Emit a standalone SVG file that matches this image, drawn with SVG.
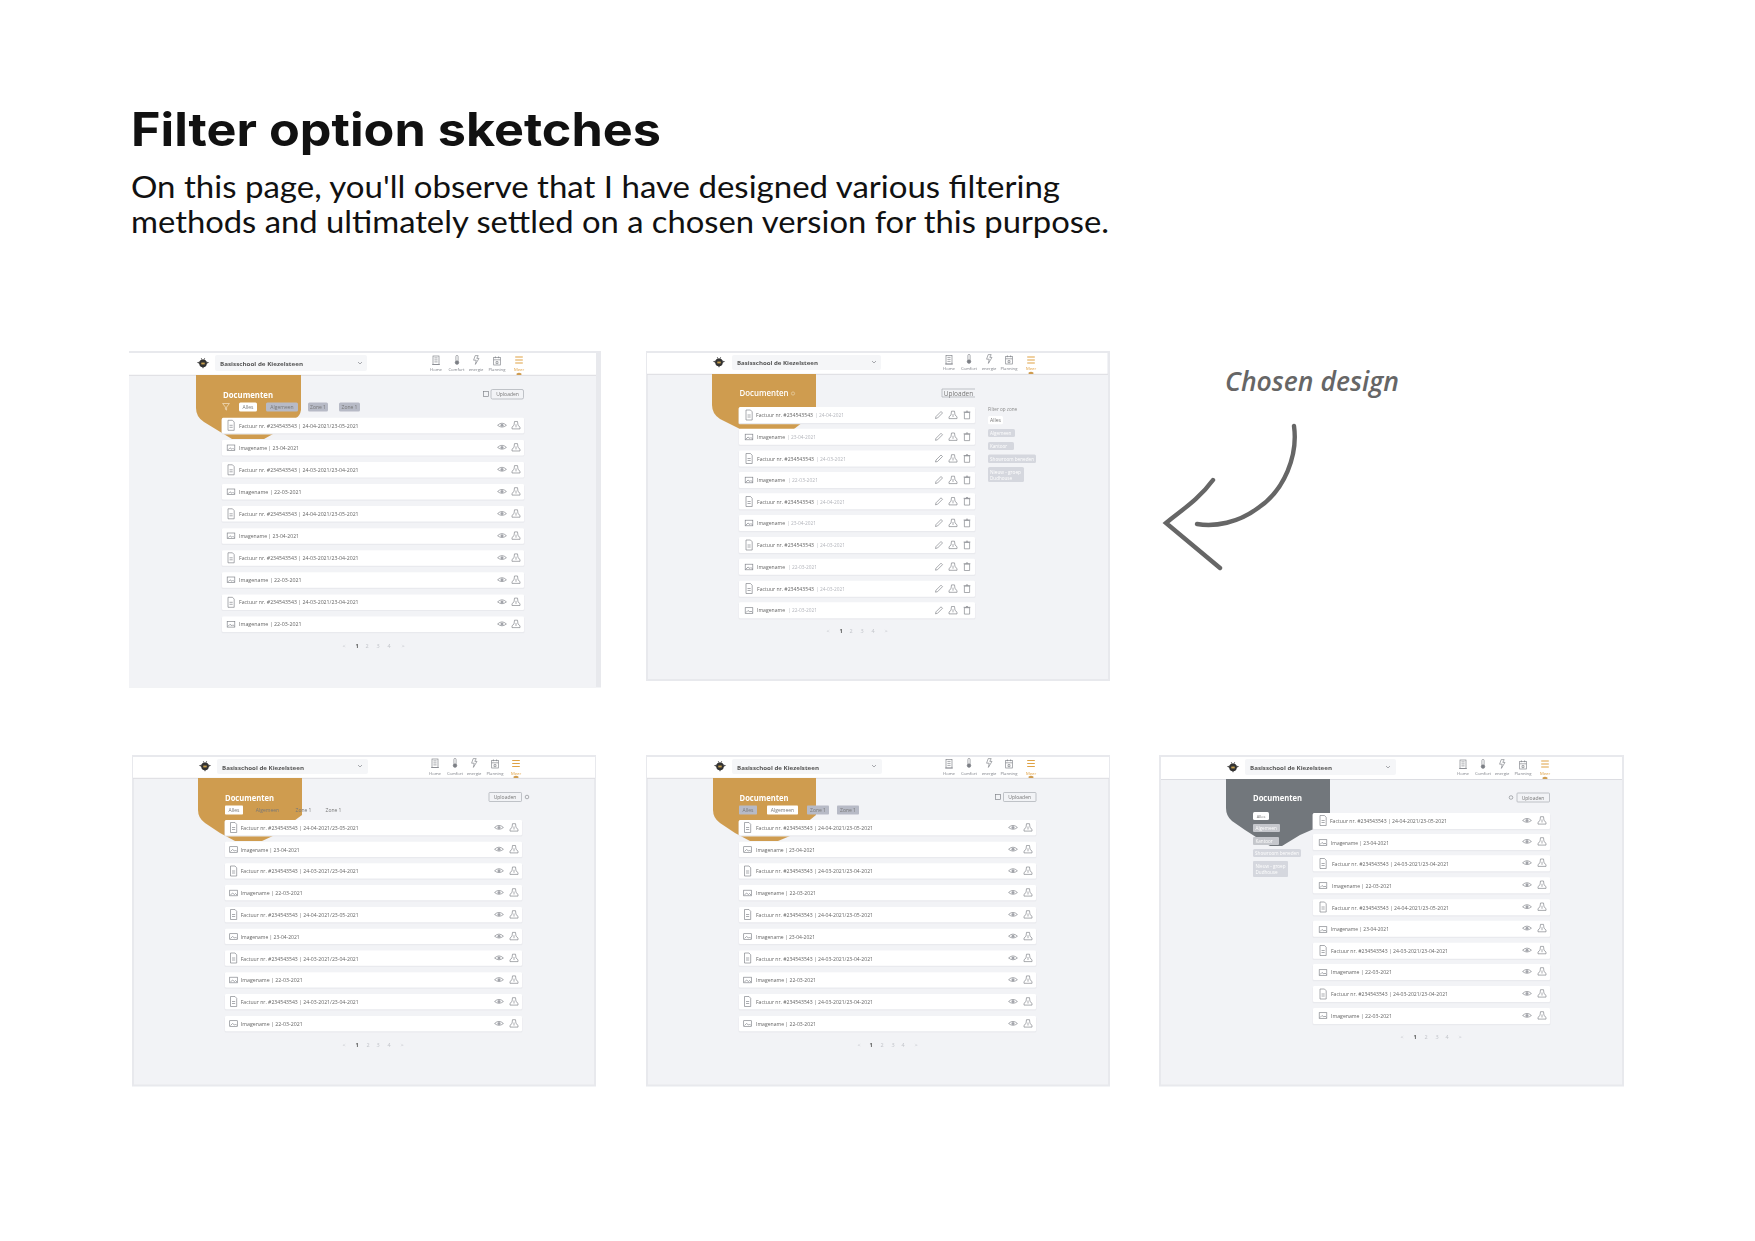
<svg xmlns="http://www.w3.org/2000/svg" width="1755" height="1241" viewBox="0 0 1755 1241">
<style>
text{font-family:"Open Sans","Liberation Sans",sans-serif}
.bg{fill:#f2f3f6;stroke:#e8e9ed;stroke-width:2}
.hd{fill:#fff}
.hl{stroke:#dcdde2;stroke-width:1}
.sel{fill:#f5f6f8}
.sn{font-size:6px;font-weight:700;fill:#555}
.nl{font-size:4.2px;fill:#7e8188;text-anchor:middle}
.ml{font-size:4.2px;fill:#e0a040;text-anchor:middle}
.or{fill:#cf9c4f}
.gr{fill:#72777b}
.dt{font-size:8.5px;font-weight:700;fill:#fff}
.rw{font-size:5.6px;fill:#666}
.rd{font-size:5.6px;fill:#b4b6bc}
.w{fill:#fff}
.cg{fill:#b7bac6}
.cl{fill:#d5d7de}
.ct{font-size:5px;fill:#777;text-anchor:middle}
.cw{font-size:4.6px;fill:#fff}
.ub{fill:none;stroke:#a9acb3;stroke-width:.7}
.ut{font-size:5px;fill:#777;text-anchor:middle}
.pg{font-size:5.5px;fill:#c2c4ca;text-anchor:middle}
.pa{font-size:5.5px;fill:#555;font-weight:700;text-anchor:middle}
.ic{fill:none;stroke:#7c7f85;stroke-width:.65}
.io{fill:none;stroke:#dfa244;stroke-width:1.1}
.sh{fill:#e9eaee}
.h1{font-family:Inter,"Liberation Sans",sans-serif;font-size:46px;font-weight:700;fill:#111}
.h2{font-family:Lato,"Liberation Sans",sans-serif;font-size:30px;fill:#111}
.cd{font-size:26.5px;font-style:italic;font-weight:600;fill:#666}
</style>
<defs>
<filter id="soft" filterUnits="userSpaceOnUse" x="120" y="340" width="1515" height="760"><feGaussianBlur stdDeviation="0.4"/></filter>
<g id="doc" class="ic"><path d="M-3 -5H1.5L3.2 -3.2V5H-3Z"/><path d="M-1.5 0H1.7M-1.5 2H1.7"/></g>
<g id="img" class="ic"><rect x="-3.8" y="-2.8" width="7.6" height="5.6"/><path d="M-3 2L-1 0L1 1.5L2 .5L3.5 2"/></g>
<g id="eye" class="ic"><path d="M-4.4 0Q0 -4.2 4.4 0Q0 3.6 -4.4 0Z"/><circle r="1.5" fill="#a2a4aa" stroke="none"/></g>
<g id="dl" class="ic"><path d="M-1.5 -3.8H1.5L2 0L4 1.8V3.6H-4V1.8L-2 0Z"/><path d="M0 -1V2"/></g>
<g id="pen" class="ic"><path d="M-3.5 3.5L-3 1.5L2 -3.5L3.5 -2L-1.5 3Z"/></g>
<g id="tr" class="ic"><path d="M-2.6 -2.6H2.6V3.8H-2.6ZM-3.4 -3H3.4M-1 -3.8H1"/></g>
<g id="i1" class="ic"><rect x="-3" y="-4.5" width="6" height="8.5"/><path d="M-1.6 -2.6H1.6M-1.6 -.6H1.6M-1.6 1.4H1.6M-4 4H4"/></g>
<g id="i2" class="ic"><rect x="-1.1" y="-4.6" width="2.2" height="6.4" rx="1.1"/><circle cy="2.6" r="1.8" fill="#7c7f85"/></g>
<g id="i3" class="ic"><path d="M-.8 -4.4H2.2L.8 -1.6H3L-.6 4.4L.2 .2H-2.4Z"/></g>
<g id="i4" class="ic"><rect x="-3.3" y="-3.4" width="6.6" height="7.4"/><path d="M-3.3 -1.2H3.3M-1.6 -4.6V-2.8M1.6 -4.6V-2.8M-1 .6H1V2.6H-1Z"/></g>
<g id="i5" class="io"><path d="M-3.8 -3H3.8M-3.8 0H3.8M-3.8 3H3.8"/></g>
<g id="bee"><path d="M-1.8 -5L-.8 -3M1.8 -5L.8 -3" stroke="#333" stroke-width=".6" fill="none"/><path d="M-3.2 -1.5L-6.2 -.4L-3.2 1ZM3.2 -1.5L6.2 -.4L3.2 1Z" fill="#555"/><ellipse cy=".3" rx="3.8" ry="3.9" fill="#333"/><rect x="-1.7" y="-.4" width="3.4" height="1.8" fill="#c9a04e"/><path d="M-1 4.2H1L0 5.6Z" fill="#333"/></g>
<path id="chev" class="ic" d="M-2 -1L0 1L2 -1"/>
<path id="mk" class="or" d="M-2.4 2V.6Q0 -1 2.4 .6V2Z"/>
<g id="fl"><path d="M-3.4 -3H3.4L.6 .6V3.6L-.6 2.8V.6Z" fill="none" stroke="#f3e4c8" stroke-width=".7"/></g>
<rect id="ubi" class="ic" x="-2.4" y="-2.4" width="4.8" height="4.8"/>
<g id="r1"><rect x="221.5" y=".4" width="303" height="16.3" rx="1.5" class="sh"/><rect x="222" width="302" height="15.5" rx="1.2" class="w"/><use href="#eye" x="502" y="7.5"/><use href="#dl" x="516" y="7.5"/></g>
<g id="r2"><rect x="738.5" y=".4" width="237" height="16.8" rx="1.5" class="sh"/><rect x="739" width="236" height="16" rx="1.2" class="w"/><use href="#pen" x="939" y="8"/><use href="#dl" x="953" y="8"/><use href="#tr" x="967" y="8"/></g>
<g id="r3"><rect x="224.5" y=".4" width="298" height="16.1" rx="1.5" class="sh"/><rect x="225" width="297" height="15.3" rx="1.2" class="w"/><use href="#eye" x="499" y="7.5"/><use href="#dl" x="514" y="7.5"/></g>
<g id="r4"><rect x="738.5" y=".4" width="298" height="16.1" rx="1.5" class="sh"/><rect x="739" width="297" height="15.3" rx="1.2" class="w"/><use href="#eye" x="1013" y="7.5"/><use href="#dl" x="1028" y="7.5"/></g>
<g id="r5"><rect x="1312.5" y=".4" width="238" height="16.8" rx="1.5" class="sh"/><rect x="1313" width="237" height="16" rx="1.2" class="w"/><use href="#eye" x="1527" y="7.5"/><use href="#dl" x="1542" y="7.5"/></g>
</defs>
<rect width="1755" height="1241" fill="#fff"/>

<g id="heading">
<text class="h1" x="131" y="145.5" textLength="530" lengthAdjust="spacingAndGlyphs">Filter option sketches</text>
<text class="h2" x="131" y="198" textLength="929" lengthAdjust="spacingAndGlyphs">On this page, you'll observe that I have designed various filtering</text>
<text class="h2" x="131" y="233" textLength="978" lengthAdjust="spacingAndGlyphs">methods and ultimately settled on a chosen version for this purpose.</text>
</g>

<g id="panel-1" filter="url(#soft)">
<rect x="129" y="351" width="472" height="336.5" fill="#e8e9ed"/>
<rect x="129" y="353" width="467" height="334.5" fill="#f2f3f6"/>
<rect class="hd" x="129" y="353" width="467" height="22"/><path class="hl" d="M129 375.3H596"/>
<use href="#bee" x="203" y="363"/>
<rect class="sel" x="215" y="355" width="152" height="16" rx="2"/>
<text class="sn" x="220" y="365.5" textLength="83" lengthAdjust="spacingAndGlyphs">Basisschool de Kiezelsteen</text>
<use href="#chev" x="360" y="363"/>
<use href="#i1" x="436" y="360.5"/><use href="#i2" x="457" y="360"/><use href="#i3" x="476" y="360"/><use href="#i4" x="497" y="361"/><use href="#i5" x="519" y="360"/>
<text class="nl" x="436" y="371">Home</text><text class="nl" x="456.5" y="371">Comfort</text><text class="nl" x="476" y="371">energie</text><text class="nl" x="497" y="371">Planning</text><text class="ml" x="519" y="371">Meer</text>
<use href="#mk" x="519" y="373"/>
<path class="or" d="M196 375H301V410Q300 416 296 418L273 434L264 439H232L222 433L204 422Q196 417 196 408Z"/>
<text class="dt" x="223" y="397.5" textLength="50" lengthAdjust="spacingAndGlyphs">Documenten</text>
<use href="#fl" x="226" y="406.5"/>
<rect class="w" x="239" y="402.5" width="18" height="9" rx="1.5"/><text class="ct" x="248" y="409">Alles</text>
<rect class="cg" x="266" y="402.5" width="32" height="9" rx="1.5"/><text class="ct" x="282" y="409">Algemeen</text>
<rect class="cg" x="308" y="402.5" width="20" height="9" rx="1.5"/><text class="ct" x="318" y="409">Zone 1</text>
<rect class="cg" x="339" y="402.5" width="21" height="9" rx="1.5"/><text class="ct" x="349.5" y="409">Zone 1</text>
<use href="#ubi" x="486" y="394"/><rect class="ub" x="491" y="389.5" width="32.5" height="9.5" rx="1.5"/><text class="ut" x="507.5" y="396">Uploaden</text>
<g id="rows-1" transform="translate(0,.8)">
<use href="#r1" y="417"/><use href="#doc" x="231" y="424.5"/><text class="rw" x="239" y="426.8" textLength="119.6" lengthAdjust="spacingAndGlyphs">Factuur nr. #234543543 | 24-04-2021/23-05-2021</text>
<use href="#r1" y="439.1"/><use href="#img" x="231" y="447"/><text class="rw" x="239" y="448.9" textLength="60" lengthAdjust="spacingAndGlyphs">Imagename | 23-04-2021</text>
<use href="#r1" y="461.1"/><use href="#doc" x="231" y="469"/><text class="rw" x="239" y="470.9" textLength="119.6" lengthAdjust="spacingAndGlyphs">Factuur nr. #234543543 | 24-03-2021/23-04-2021</text>
<use href="#r1" y="483.2"/><use href="#img" x="231" y="491"/><text class="rw" x="239" y="493" textLength="62.6" lengthAdjust="spacingAndGlyphs">Imagename | 22-03-2021</text>
<use href="#r1" y="505.3"/><use href="#doc" x="231" y="513"/><text class="rw" x="239" y="515.1" textLength="119.6" lengthAdjust="spacingAndGlyphs">Factuur nr. #234543543 | 24-04-2021/23-05-2021</text>
<use href="#r1" y="527.4"/><use href="#img" x="231" y="535"/><text class="rw" x="239" y="537.2" textLength="60" lengthAdjust="spacingAndGlyphs">Imagename | 23-04-2021</text>
<use href="#r1" y="549.4"/><use href="#doc" x="231" y="557"/><text class="rw" x="239" y="559.2" textLength="119.6" lengthAdjust="spacingAndGlyphs">Factuur nr. #234543543 | 24-03-2021/23-04-2021</text>
<use href="#r1" y="571.5"/><use href="#img" x="231" y="579"/><text class="rw" x="239" y="581.3" textLength="62.6" lengthAdjust="spacingAndGlyphs">Imagename | 22-03-2021</text>
<use href="#r1" y="593.6"/><use href="#doc" x="231" y="601.5"/><text class="rw" x="239" y="603.4" textLength="119.6" lengthAdjust="spacingAndGlyphs">Factuur nr. #234543543 | 24-03-2021/23-04-2021</text>
<use href="#r1" y="615.7"/><use href="#img" x="231" y="623.5"/><text class="rw" x="239" y="625.5" textLength="62.6" lengthAdjust="spacingAndGlyphs">Imagename | 22-03-2021</text>
</g>
<text class="pg" x="344" y="647.5">&lt;</text><text class="pa" x="357" y="647.5">1</text><text class="pg" x="367" y="647.5">2</text><text class="pg" x="378" y="647.5">3</text><text class="pg" x="389" y="647.5">4</text><text class="pg" x="403" y="647.5">&gt;</text>
</g>

<g id="panel-2" filter="url(#soft)">
<rect class="bg" x="647" y="352" width="462" height="328"/>
<rect class="hd" x="647" y="353" width="460" height="21"/><path class="hl" d="M647 374.3H1108"/>
<use href="#bee" x="719" y="362"/>
<rect class="sel" x="732" y="355" width="149" height="15" rx="2"/>
<text class="sn" x="737" y="365" textLength="81" lengthAdjust="spacingAndGlyphs">Basisschool de Kiezelsteen</text>
<use href="#chev" x="874" y="362"/>
<use href="#i1" x="949" y="360"/><use href="#i2" x="969" y="359"/><use href="#i3" x="989" y="359"/><use href="#i4" x="1009" y="360"/><use href="#i5" x="1031" y="360"/>
<text class="nl" x="949" y="370">Home</text><text class="nl" x="969" y="370">Comfort</text><text class="nl" x="989" y="370">energie</text><text class="nl" x="1009" y="370">Planning</text><text class="ml" x="1031" y="370">Meer</text>
<use href="#mk" x="1031" y="372"/>
<path class="or" d="M712 374H816V412L794 429H740L720 419Q712 414 712 405Z"/>
<text class="dt" x="739.5" y="396" textLength="49" lengthAdjust="spacingAndGlyphs" style="font-weight:600">Documenten</text>
<circle cx="793" cy="393.5" r="1.6" fill="none" stroke="#eedcb8" stroke-width=".6"/>
<path class="ub" d="M975 397H942V389H975"/><text class="ut" x="958.5" y="395.5" style="font-size:6.5px">Uploaden</text>
<g id="rows-2">
<use href="#r2" y="407"/><use href="#doc" x="749" y="415"/><text class="rw" x="756" y="417" textLength="57" lengthAdjust="spacingAndGlyphs">Factuur nr. #234543543</text><text class="rd" x="815" y="417" textLength="29" lengthAdjust="spacingAndGlyphs">| 24-04-2021</text>
<use href="#r2" y="428.8"/><use href="#img" x="749" y="437"/><text class="rw" x="757" y="438.8" textLength="28" lengthAdjust="spacingAndGlyphs">Imagename</text><text class="rd" x="787" y="438.8" textLength="29" lengthAdjust="spacingAndGlyphs">| 23-04-2021</text>
<use href="#r2" y="450.5"/><use href="#doc" x="749" y="458.5"/><text class="rw" x="757" y="460.5" textLength="57" lengthAdjust="spacingAndGlyphs">Factuur nr. #234543543</text><text class="rd" x="816" y="460.5" textLength="30" lengthAdjust="spacingAndGlyphs">| 24-03-2021</text>
<use href="#r2" y="472"/><use href="#img" x="749" y="480"/><text class="rw" x="757" y="482" textLength="28" lengthAdjust="spacingAndGlyphs">Imagename</text><text class="rd" x="788" y="482" textLength="30" lengthAdjust="spacingAndGlyphs">| 22-03-2021</text>
<use href="#r2" y="493.3"/><use href="#doc" x="749" y="501.5"/><text class="rw" x="757" y="503.5" textLength="57" lengthAdjust="spacingAndGlyphs">Factuur nr. #234543543</text><text class="rd" x="816" y="503.5" textLength="29" lengthAdjust="spacingAndGlyphs">| 24-04-2021</text>
<use href="#r2" y="515"/><use href="#img" x="749" y="523"/><text class="rw" x="757" y="525" textLength="28" lengthAdjust="spacingAndGlyphs">Imagename</text><text class="rd" x="787" y="525" textLength="29" lengthAdjust="spacingAndGlyphs">| 23-04-2021</text>
<use href="#r2" y="537"/><use href="#doc" x="749" y="545"/><text class="rw" x="757" y="547" textLength="57" lengthAdjust="spacingAndGlyphs">Factuur nr. #234543543</text><text class="rd" x="816" y="547" textLength="29" lengthAdjust="spacingAndGlyphs">| 24-03-2021</text>
<use href="#r2" y="558.7"/><use href="#img" x="749" y="567"/><text class="rw" x="757" y="568.7" textLength="28" lengthAdjust="spacingAndGlyphs">Imagename</text><text class="rd" x="788" y="568.7" textLength="29" lengthAdjust="spacingAndGlyphs">| 22-03-2021</text>
<use href="#r2" y="580.7"/><use href="#doc" x="749" y="588.5"/><text class="rw" x="757" y="590.7" textLength="57" lengthAdjust="spacingAndGlyphs">Factuur nr. #234543543</text><text class="rd" x="816" y="590.7" textLength="29" lengthAdjust="spacingAndGlyphs">| 24-03-2021</text>
<use href="#r2" y="602.3"/><use href="#img" x="749" y="610.5"/><text class="rw" x="757" y="612.3" textLength="28" lengthAdjust="spacingAndGlyphs">Imagename</text><text class="rd" x="788" y="612.3" textLength="29" lengthAdjust="spacingAndGlyphs">| 22-03-2021</text>
</g>
<text x="988" y="410.5" style="font-size:4.6px;fill:#888">Filter op zone</text>
<rect class="w" x="988" y="416" width="15" height="8.3" rx="1.5"/><text class="ct" x="995.5" y="422">Alles</text>
<rect class="cl" x="988" y="429" width="27" height="8" rx="1.5"/><text class="cw" x="990" y="435">Algemeen</text>
<rect class="cl" x="988" y="442" width="26" height="8" rx="1.5"/><text class="cw" x="990" y="448">Kantoor</text>
<rect class="cl" x="988" y="454.5" width="48" height="8.5" rx="1.5"/><text class="cw" x="990" y="460.5" textLength="44" lengthAdjust="spacingAndGlyphs">Showroom beneden</text>
<rect class="cl" x="988" y="467" width="36" height="15" rx="1.5"/><text class="cw" x="990" y="473.5" textLength="31" lengthAdjust="spacingAndGlyphs">Nieuw - groep</text><text class="cw" x="990" y="479.5">Dudhouse</text>
<text class="pg" x="828" y="633">&lt;</text><text class="pa" x="841" y="633">1</text><text class="pg" x="851" y="633">2</text><text class="pg" x="862" y="633">3</text><text class="pg" x="873" y="633">4</text><text class="pg" x="886" y="633">&gt;</text>
</g>

<g id="chosen-note">
<text class="cd" x="1225" y="391" textLength="174" lengthAdjust="spacingAndGlyphs">Chosen design</text>
<path d="M1294 426C1298 455 1285 490 1258 508C1238 523 1215 527 1197 524M1213 480C1200 498 1182 510 1166 523L1220 568" fill="none" stroke="#666" stroke-width="4.4" stroke-linecap="round" stroke-linejoin="miter"/>
</g>

<g id="panel-3" filter="url(#soft)">
<rect class="bg" x="133" y="756" width="462" height="329.5"/>
<rect class="hd" x="133" y="757" width="462" height="21"/><path class="hl" d="M133 778.3H595"/>
<use href="#bee" x="205" y="766"/>
<rect class="sel" x="217" y="759" width="151" height="15" rx="2"/>
<text class="sn" x="222" y="769.5" textLength="82" lengthAdjust="spacingAndGlyphs">Basisschool de Kiezelsteen</text>
<use href="#chev" x="360" y="766"/>
<use href="#i1" x="435" y="763.5"/><use href="#i2" x="455" y="763"/><use href="#i3" x="474" y="763"/><use href="#i4" x="495" y="764"/><use href="#i5" x="516" y="763.5"/>
<text class="nl" x="435" y="774.5">Home</text><text class="nl" x="455" y="774.5">Comfort</text><text class="nl" x="474" y="774.5">energie</text><text class="nl" x="495" y="774.5">Planning</text><text class="ml" x="516" y="774.5">Meer</text>
<use href="#mk" x="516" y="776"/>
<path class="or" d="M198 778H302V815L275 835L262 841H235L220 833L205 823Q198 818 198 810Z"/>
<text class="dt" x="225" y="800.5" textLength="49" lengthAdjust="spacingAndGlyphs">Documenten</text>
<rect class="w" x="225" y="805.5" width="18" height="9" rx=".8"/><text class="ct" x="234" y="812">Alles</text>
<text class="ct" x="267.5" y="812">Algemeen</text><text class="ct" x="303.5" y="812">Zone 1</text><text class="ct" x="333.5" y="812">Zone 1</text>
<rect class="ub" x="489" y="792.5" width="32.5" height="9" rx=".8"/><text class="ut" x="505" y="799">Uploaden</text><circle cx="527" cy="797" r="1.8" fill="none" stroke="#7c7f85" stroke-width=".6"/>
<g id="rows-3" transform="translate(0,1)">
<use href="#r3" y="819"/><use href="#doc" x="233.5" y="826.5"/><text class="rw" x="240.7" y="829" textLength="118" lengthAdjust="spacingAndGlyphs">Factuur nr. #234543543 | 24-04-2021/23-05-2021</text>
<use href="#r3" y="840.8"/><use href="#img" x="233.5" y="848.5"/><text class="rw" x="240.7" y="850.8" textLength="59" lengthAdjust="spacingAndGlyphs">Imagename | 23-04-2021</text>
<use href="#r3" y="862.3"/><use href="#doc" x="233.5" y="870"/><text class="rw" x="240.7" y="872.3" textLength="118" lengthAdjust="spacingAndGlyphs">Factuur nr. #234543543 | 24-03-2021/23-04-2021</text>
<use href="#r3" y="884"/><use href="#img" x="233.5" y="892"/><text class="rw" x="240.7" y="894" textLength="62" lengthAdjust="spacingAndGlyphs">Imagename | 22-03-2021</text>
<use href="#r3" y="906"/><use href="#doc" x="233.5" y="913.5"/><text class="rw" x="240.7" y="916" textLength="118" lengthAdjust="spacingAndGlyphs">Factuur nr. #234543543 | 24-04-2021/23-05-2021</text>
<use href="#r3" y="927.7"/><use href="#img" x="233.5" y="935.5"/><text class="rw" x="240.7" y="937.7" textLength="59" lengthAdjust="spacingAndGlyphs">Imagename | 23-04-2021</text>
<use href="#r3" y="949.5"/><use href="#doc" x="233.5" y="957"/><text class="rw" x="240.7" y="959.5" textLength="118" lengthAdjust="spacingAndGlyphs">Factuur nr. #234543543 | 24-03-2021/23-04-2021</text>
<use href="#r3" y="971.2"/><use href="#img" x="233.5" y="979"/><text class="rw" x="240.7" y="981.2" textLength="62" lengthAdjust="spacingAndGlyphs">Imagename | 22-03-2021</text>
<use href="#r3" y="993"/><use href="#doc" x="233.5" y="1000.5"/><text class="rw" x="240.7" y="1003" textLength="118" lengthAdjust="spacingAndGlyphs">Factuur nr. #234543543 | 24-03-2021/23-04-2021</text>
<use href="#r3" y="1015"/><use href="#img" x="233.5" y="1022.5"/><text class="rw" x="240.7" y="1025" textLength="62" lengthAdjust="spacingAndGlyphs">Imagename | 22-03-2021</text>
</g>
<text class="pg" x="344" y="1046.5">&lt;</text><text class="pa" x="357" y="1046.5">1</text><text class="pg" x="368" y="1046.5">2</text><text class="pg" x="378" y="1046.5">3</text><text class="pg" x="389" y="1046.5">4</text><text class="pg" x="402" y="1046.5">&gt;</text>
</g>

<g id="panel-4" filter="url(#soft)">
<rect class="bg" x="647" y="756" width="462" height="329.5"/>
<rect class="hd" x="647" y="757" width="462" height="21"/><path class="hl" d="M647 778.3H1109"/>
<use href="#bee" x="720" y="766"/>
<rect class="sel" x="732" y="759" width="150" height="15" rx="2"/>
<text class="sn" x="737" y="769.5" textLength="82" lengthAdjust="spacingAndGlyphs">Basisschool de Kiezelsteen</text>
<use href="#chev" x="874" y="766"/>
<use href="#i1" x="949" y="764"/><use href="#i2" x="969" y="763"/><use href="#i3" x="989" y="763"/><use href="#i4" x="1009" y="764"/><use href="#i5" x="1031" y="763.5"/>
<text class="nl" x="949" y="774.5">Home</text><text class="nl" x="969" y="774.5">Comfort</text><text class="nl" x="989" y="774.5">energie</text><text class="nl" x="1009" y="774.5">Planning</text><text class="ml" x="1031" y="774.5">Meer</text>
<use href="#mk" x="1031" y="776"/>
<path class="or" d="M713 778H816V815L790 836L778 841H750L735 833L720 823Q713 818 713 810Z"/>
<text class="dt" x="739.5" y="800.5" textLength="49" lengthAdjust="spacingAndGlyphs">Documenten</text>
<rect class="cg" x="739" y="805.5" width="18" height="9" rx=".8"/><text class="ct" x="748" y="812">Alles</text>
<rect class="w" x="767" y="805.5" width="31" height="9" rx=".8"/><text class="ct" x="782.5" y="812">Algemeen</text>
<rect class="cg" x="807" y="805.5" width="22" height="9" rx=".8"/><text class="ct" x="818" y="812">Zone 1</text>
<rect class="cg" x="837" y="805.5" width="22" height="9" rx=".8"/><text class="ct" x="848" y="812">Zone 1</text>
<use href="#ubi" x="998" y="797"/><rect class="ub" x="1003.5" y="792.5" width="32.5" height="9" rx=".8"/><text class="ut" x="1019.7" y="799">Uploaden</text>
<g id="rows-4" transform="translate(0,1)">
<use href="#r4" y="819"/><use href="#doc" x="747.5" y="826.5"/><text class="rw" x="756" y="829" textLength="117" lengthAdjust="spacingAndGlyphs">Factuur nr. #234543543 | 24-04-2021/23-05-2021</text>
<use href="#r4" y="840.8"/><use href="#img" x="747.5" y="848.5"/><text class="rw" x="756" y="850.8" textLength="59" lengthAdjust="spacingAndGlyphs">Imagename | 23-04-2021</text>
<use href="#r4" y="862.3"/><use href="#doc" x="747.5" y="870"/><text class="rw" x="756" y="872.3" textLength="117" lengthAdjust="spacingAndGlyphs">Factuur nr. #234543543 | 24-03-2021/23-04-2021</text>
<use href="#r4" y="884"/><use href="#img" x="747.5" y="892"/><text class="rw" x="756" y="894" textLength="60" lengthAdjust="spacingAndGlyphs">Imagename | 22-03-2021</text>
<use href="#r4" y="906"/><use href="#doc" x="747.5" y="913.5"/><text class="rw" x="756" y="916" textLength="117" lengthAdjust="spacingAndGlyphs">Factuur nr. #234543543 | 24-04-2021/23-05-2021</text>
<use href="#r4" y="927.7"/><use href="#img" x="747.5" y="935.5"/><text class="rw" x="756" y="937.7" textLength="59" lengthAdjust="spacingAndGlyphs">Imagename | 23-04-2021</text>
<use href="#r4" y="949.5"/><use href="#doc" x="747.5" y="957"/><text class="rw" x="756" y="959.5" textLength="117" lengthAdjust="spacingAndGlyphs">Factuur nr. #234543543 | 24-03-2021/23-04-2021</text>
<use href="#r4" y="971.2"/><use href="#img" x="747.5" y="979"/><text class="rw" x="756" y="981.2" textLength="60" lengthAdjust="spacingAndGlyphs">Imagename | 22-03-2021</text>
<use href="#r4" y="993"/><use href="#doc" x="747.5" y="1000.5"/><text class="rw" x="756" y="1003" textLength="117" lengthAdjust="spacingAndGlyphs">Factuur nr. #234543543 | 24-03-2021/23-04-2021</text>
<use href="#r4" y="1015"/><use href="#img" x="747.5" y="1022.5"/><text class="rw" x="756" y="1025" textLength="60" lengthAdjust="spacingAndGlyphs">Imagename | 22-03-2021</text>
</g>
<text class="pg" x="859" y="1046.5">&lt;</text><text class="pa" x="871" y="1046.5">1</text><text class="pg" x="882" y="1046.5">2</text><text class="pg" x="893" y="1046.5">3</text><text class="pg" x="903" y="1046.5">4</text><text class="pg" x="916" y="1046.5">&gt;</text>
</g>

<g id="panel-5" filter="url(#soft)">
<rect class="bg" x="1160" y="756" width="463" height="329.5"/>
<rect class="hd" x="1161" y="757" width="461" height="22"/><path class="hl" d="M1161 779.5H1622"/>
<use href="#bee" x="1233" y="767"/>
<rect class="sel" x="1245" y="759" width="151" height="16" rx="2"/>
<text class="sn" x="1250" y="769.5" textLength="82" lengthAdjust="spacingAndGlyphs">Basisschool de Kiezelsteen</text>
<use href="#chev" x="1388" y="767"/>
<use href="#i1" x="1463" y="764.5"/><use href="#i2" x="1483" y="764"/><use href="#i3" x="1502" y="764"/><use href="#i4" x="1523" y="765"/><use href="#i5" x="1545" y="764"/>
<text class="nl" x="1463" y="775">Home</text><text class="nl" x="1483" y="775">Comfort</text><text class="nl" x="1502" y="775">energie</text><text class="nl" x="1523" y="775">Planning</text><text class="ml" x="1545" y="775">Meer</text>
<use href="#mk" x="1545" y="777"/>
<path class="gr" d="M1226 779H1330V815L1316 828L1300 835L1282 846H1270L1245 830L1232 821Q1226 816 1226 808Z"/>
<text class="dt" x="1253" y="801" textLength="49" lengthAdjust="spacingAndGlyphs">Documenten</text>
<rect class="w" x="1253" y="812" width="16" height="8" rx="1.5"/><text class="ct" x="1261" y="817.8" style="font-size:4px">Alles</text>
<rect class="cl" x="1253" y="824" width="27" height="8" rx="1" style="fill:#c5c7cc"/><text class="cw" x="1255.5" y="830">Algemeen</text>
<rect class="cl" x="1253" y="837" width="26" height="8" rx="1" style="fill:#c5c7cc"/><text class="cw" x="1255.5" y="843">Kantoor</text>
<rect class="cl" x="1253" y="849" width="48" height="8" rx="1.5"/><text class="cw" x="1255" y="855" textLength="44" lengthAdjust="spacingAndGlyphs">Showroom beneden</text>
<rect class="cl" x="1253" y="861" width="35" height="16" rx="1"/><text class="cw" x="1255.5" y="868" textLength="30" lengthAdjust="spacingAndGlyphs">Nieuw - groep</text><text class="cw" x="1255.5" y="874">Dudhouse</text>
<circle cx="1511" cy="797.5" r="1.8" fill="none" stroke="#7c7f85" stroke-width=".6"/><rect class="ub" x="1517" y="793" width="32.5" height="9" rx=".8"/><text class="ut" x="1533" y="799.5">Uploaden</text>
<g id="rows-5" transform="translate(0,1)">
<use href="#r5" y="812"/><use href="#doc" x="1323" y="819.5"/><text class="rw" x="1330" y="822" textLength="117" lengthAdjust="spacingAndGlyphs">Factuur nr. #234543543 | 24-04-2021/23-05-2021</text>
<use href="#r5" y="833"/><use href="#img" x="1323" y="841.5"/><text class="rw" x="1331" y="843.5" textLength="58" lengthAdjust="spacingAndGlyphs">Imagename | 23-04-2021</text>
<use href="#r5" y="854.3"/><use href="#doc" x="1323" y="862.5"/><text class="rw" x="1332" y="864.5" textLength="117" lengthAdjust="spacingAndGlyphs">Factuur nr. #234543543 | 24-03-2021/23-04-2021</text>
<use href="#r5" y="876.3"/><use href="#img" x="1323" y="884.5"/><text class="rw" x="1332" y="886.5" textLength="60" lengthAdjust="spacingAndGlyphs">Imagename | 22-03-2021</text>
<use href="#r5" y="898.3"/><use href="#doc" x="1323" y="906"/><text class="rw" x="1332" y="908.5" textLength="117" lengthAdjust="spacingAndGlyphs">Factuur nr. #234543543 | 24-04-2021/23-05-2021</text>
<use href="#r5" y="919.7"/><use href="#img" x="1323" y="928.5"/><text class="rw" x="1331" y="930" textLength="58" lengthAdjust="spacingAndGlyphs">Imagename | 23-04-2021</text>
<use href="#r5" y="941.7"/><use href="#doc" x="1323" y="949.5"/><text class="rw" x="1331" y="952" textLength="117" lengthAdjust="spacingAndGlyphs">Factuur nr. #234543543 | 24-03-2021/23-04-2021</text>
<use href="#r5" y="963"/><use href="#img" x="1323" y="971.5"/><text class="rw" x="1331" y="973.3" textLength="61" lengthAdjust="spacingAndGlyphs">Imagename | 22-03-2021</text>
<use href="#r5" y="985"/><use href="#doc" x="1323" y="993"/><text class="rw" x="1331" y="995.3" textLength="117" lengthAdjust="spacingAndGlyphs">Factuur nr. #234543543 | 24-03-2021/23-04-2021</text>
<use href="#r5" y="1007"/><use href="#img" x="1323" y="1014.5"/><text class="rw" x="1331" y="1017.3" textLength="61" lengthAdjust="spacingAndGlyphs">Imagename | 22-03-2021</text>
</g>
<text class="pg" x="1402" y="1038.5">&lt;</text><text class="pa" x="1415" y="1038.5">1</text><text class="pg" x="1426" y="1038.5">2</text><text class="pg" x="1437" y="1038.5">3</text><text class="pg" x="1447" y="1038.5">4</text><text class="pg" x="1460" y="1038.5">&gt;</text>
</g>
</svg>
